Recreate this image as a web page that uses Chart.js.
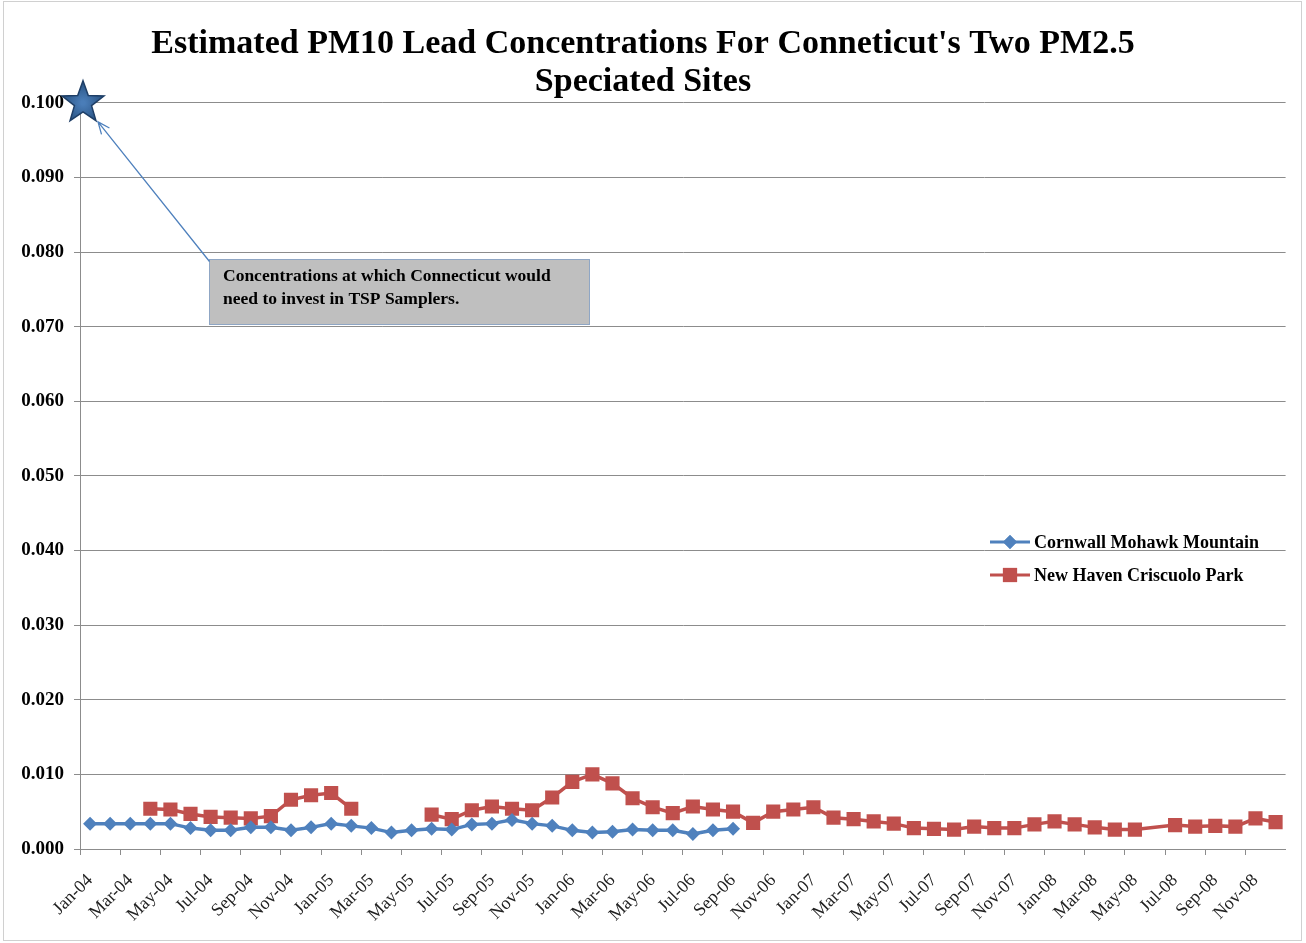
<!DOCTYPE html>
<html>
<head>
<meta charset="utf-8">
<title>Estimated PM10 Lead Concentrations</title>
<script src="https://cdn.jsdelivr.net/npm/chart.js@4.4.1/dist/chart.umd.min.js"></script>
<style>
  html, body { margin: 0; padding: 0; background: #fff; }
  #wrap { position: relative; width: 1306px; height: 943px; }
</style>
</head>
<body>
<div id="wrap"><canvas id="leadChart"></canvas></div>
<script>
// Months on the category axis (Jan-04 .. Dec-08)
const months = [
  "Jan-04","Feb-04","Mar-04","Apr-04","May-04","Jun-04","Jul-04","Aug-04","Sep-04","Oct-04","Nov-04","Dec-04",
  "Jan-05","Feb-05","Mar-05","Apr-05","May-05","Jun-05","Jul-05","Aug-05","Sep-05","Oct-05","Nov-05","Dec-05",
  "Jan-06","Feb-06","Mar-06","Apr-06","May-06","Jun-06","Jul-06","Aug-06","Sep-06","Oct-06","Nov-06","Dec-06",
  "Jan-07","Feb-07","Mar-07","Apr-07","May-07","Jun-07","Jul-07","Aug-07","Sep-07","Oct-07","Nov-07","Dec-07",
  "Jan-08","Feb-08","Mar-08","Apr-08","May-08","Jun-08","Jul-08","Aug-08","Sep-08","Oct-08","Nov-08","Dec-08"
];

// Cornwall Mohawk Mountain (ends Sep-06)
const cornwall = [
  0.0034, 0.0034, 0.0034, 0.0034, 0.0034, 0.0028, 0.0025, 0.0025, 0.0029, 0.0029, 0.0025, 0.0029,
  0.0034, 0.0031, 0.0028, 0.0022, 0.0025, 0.0027, 0.0026, 0.0033, 0.0034, 0.0039, 0.0034, 0.0031,
  0.0025, 0.0022, 0.0023, 0.0026, 0.0025, 0.0025, 0.0020, 0.0025, 0.0027, null, null, null,
  null, null, null, null, null, null, null, null, null, null, null, null,
  null, null, null, null, null, null, null, null, null, null, null, null
];

// New Haven Criscuolo Park
const newHaven = [
  null, null, null, 0.0054, 0.0053, 0.0047, 0.0043, 0.0042, 0.0041, 0.0044, 0.0066, 0.0072,
  0.0075, 0.0054, null, null, null, 0.0046, 0.0040, 0.0052, 0.0057, 0.0054, 0.0052, 0.0069,
  0.0090, 0.0100, 0.0088, 0.0068, 0.0056, 0.0048, 0.0057, 0.0053, 0.0050, 0.0035, 0.0050, 0.0053,
  0.0056, 0.0042, 0.0040, 0.0037, 0.0034, 0.0028, 0.0027, 0.0026, 0.0030, 0.0028, 0.0028, 0.0033,
  0.0037, 0.0033, 0.0029, 0.0026, 0.0026, null, 0.0032, 0.0030, 0.0031, 0.0030, 0.0041, 0.0036
];

const seriesNames = ["Cornwall Mohawk Mountain", "New Haven Criscuolo Park"];
const titleLines = ["Estimated PM10 Lead Concentrations For Conneticut's Two PM2.5", "Speciated Sites"];
const noteLines = ["Concentrations at which Connecticut would", "need to invest in TSP Samplers."];

// y axis range and the threshold marked by the star
const yMin = 0;
const yMax = 0.1;
const yStep = 0.01;
const thresholdValue = 0.1;

const BLUE = "#4F81BD";
const RED = "#C0504D";
const GRID = "#8C8C8C";
const SERIF = "'Liberation Serif', 'Times New Roman', serif";

function drawStar(ctx, cx, cy, outer, inner) {
  ctx.beginPath();
  for (let i = 0; i < 10; i++) {
    const r = i % 2 === 0 ? outer : inner;
    const a = -Math.PI / 2 + i * Math.PI / 5;
    const px = cx + r * Math.cos(a), py = cy + r * Math.sin(a);
    if (i === 0) ctx.moveTo(px, py); else ctx.lineTo(px, py);
  }
  ctx.closePath();
  const g = ctx.createRadialGradient(cx, cy, 2, cx, cy, outer);
  g.addColorStop(0, "#4A7DB8");
  g.addColorStop(1, "#27507F");
  ctx.fillStyle = g;
  ctx.fill();
  ctx.lineWidth = 1.5;
  ctx.strokeStyle = "#1E3E66";
  ctx.stroke();
}

// Star, arrow, note box, legend and outer frame
const decorations = {
  id: "decorations",
  afterDraw(chart) {
    const { ctx, chartArea, scales } = chart;
    const y = scales.y;
    ctx.save();

    // note box
    const bx = 209.5, by = 259.5, bw = 380, bh = 65;
    ctx.fillStyle = "#BFBFBF";
    ctx.fillRect(bx, by, bw, bh);
    ctx.strokeStyle = "#8FA6C4";
    ctx.lineWidth = 1;
    ctx.strokeRect(bx, by, bw, bh);
    ctx.fillStyle = "#000";
    ctx.font = "bold 17.5px " + SERIF;
    ctx.textBaseline = "middle";
    ctx.textAlign = "left";
    ctx.fillText(noteLines[0], 223, 276);
    ctx.fillText(noteLines[1], 223, 299);

    // star at the threshold
    const sy = y.getPixelForValue(thresholdValue);
    const sx = chartArea.left + 3;
    drawStar(ctx, sx, sy, 22, 9);

    // arrow from note box to star
    const x0 = bx, y0 = by + 2, x1 = sx + 15, y1 = sy + 19;
    ctx.strokeStyle = BLUE;
    ctx.lineWidth = 1.3;
    ctx.beginPath();
    ctx.moveTo(x0, y0);
    ctx.lineTo(x1, y1);
    const ang = Math.atan2(y1 - y0, x1 - x0);
    ctx.moveTo(x1 - 13 * Math.cos(ang - 0.4), y1 - 13 * Math.sin(ang - 0.4));
    ctx.lineTo(x1, y1);
    ctx.lineTo(x1 - 13 * Math.cos(ang + 0.4), y1 - 13 * Math.sin(ang + 0.4));
    ctx.stroke();

    // legend
    const items = [
      { color: BLUE, style: "rectRot", radius: 7, ly: 542 },
      { color: RED, style: "rect", radius: 10, ly: 575 }
    ];
    items.forEach((it, i) => {
      ctx.strokeStyle = it.color;
      ctx.lineWidth = 3;
      ctx.beginPath();
      ctx.moveTo(990, it.ly);
      ctx.lineTo(1030, it.ly);
      ctx.stroke();
      ctx.fillStyle = it.color;
      Chart.helpers.drawPoint(ctx, { pointStyle: it.style, radius: it.radius, borderWidth: 0, rotation: 0 }, 1010, it.ly);
      ctx.fill();
      ctx.fillStyle = "#000";
      ctx.font = "bold 18px " + SERIF;
      ctx.textBaseline = "middle";
      ctx.fillText(seriesNames[i], 1034, it.ly + 1);
    });

    // outer frame
    ctx.strokeStyle = "#D0D0D0";
    ctx.lineWidth = 1;
    ctx.strokeRect(3.5, 1.5, 1298, 939);
    ctx.restore();
  }
};

// hide the line across a hole of two or more missing months, bridge a single one
function gapColor(values) {
  return ctx => {
    const i = ctx.p1DataIndex;
    return values[i - 1] === null && values[i - 2] === null ? "rgba(0,0,0,0)" : undefined;
  };
}

new Chart(document.getElementById("leadChart"), {
  type: "line",
  data: {
    labels: months,
    datasets: [
      {
        label: seriesNames[0],
        data: cornwall,
        borderColor: BLUE,
        backgroundColor: BLUE,
        borderWidth: 3.5,
        pointStyle: "rectRot",
        pointRadius: 7,
        pointBorderWidth: 0,
        tension: 0
      },
      {
        label: seriesNames[1],
        data: newHaven,
        borderColor: RED,
        backgroundColor: RED,
        borderWidth: 3.5,
        pointStyle: "rect",
        pointRadius: 10,
        pointBorderWidth: 0,
        tension: 0,
        spanGaps: true,
        segment: { borderColor: gapColor(newHaven) }
      }
    ]
  },
  options: {
    responsive: true,
    maintainAspectRatio: false,
    animation: false,
    layout: { padding: { top: 0, left: 0, right: 20, bottom: 0 } },
    plugins: {
      legend: { display: false },
      tooltip: { enabled: false },
      title: {
        display: true,
        text: titleLines,
        color: "#000",
        font: { family: SERIF, size: 34, weight: "bold", lineHeight: 1.13 },
        padding: { top: 25, bottom: 1 }
      }
    },
    scales: {
      x: {
        offset: true,
        afterFit(scale) { scale.height = 94; },
        grid: {
          offset: true,
          drawOnChartArea: false,
          tickLength: 6,
          color: ctx => (ctx.index % 2 === 0 ? GRID : "rgba(0,0,0,0)")
        },
        border: { color: GRID, width: 1 },
        ticks: {
          autoSkip: false,
          minRotation: 45,
          maxRotation: 45,
          padding: 15,
          color: "#222",
          font: { family: SERIF, size: 18 },
          callback: (v, i) => (i % 2 === 0 ? months[i] : "")
        }
      },
      y: {
        min: yMin,
        max: yMax,
        afterFit(scale) { scale.width = 80; },
        grid: { color: GRID, tickLength: 6 },
        border: { color: GRID, width: 1 },
        ticks: {
          stepSize: yStep,
          padding: 10,
          color: "#000",
          font: { family: SERIF, size: 19, weight: "bold" },
          callback: v => v.toFixed(3)
        }
      }
    }
  },
  plugins: [decorations]
});
</script>
</body>
</html>
